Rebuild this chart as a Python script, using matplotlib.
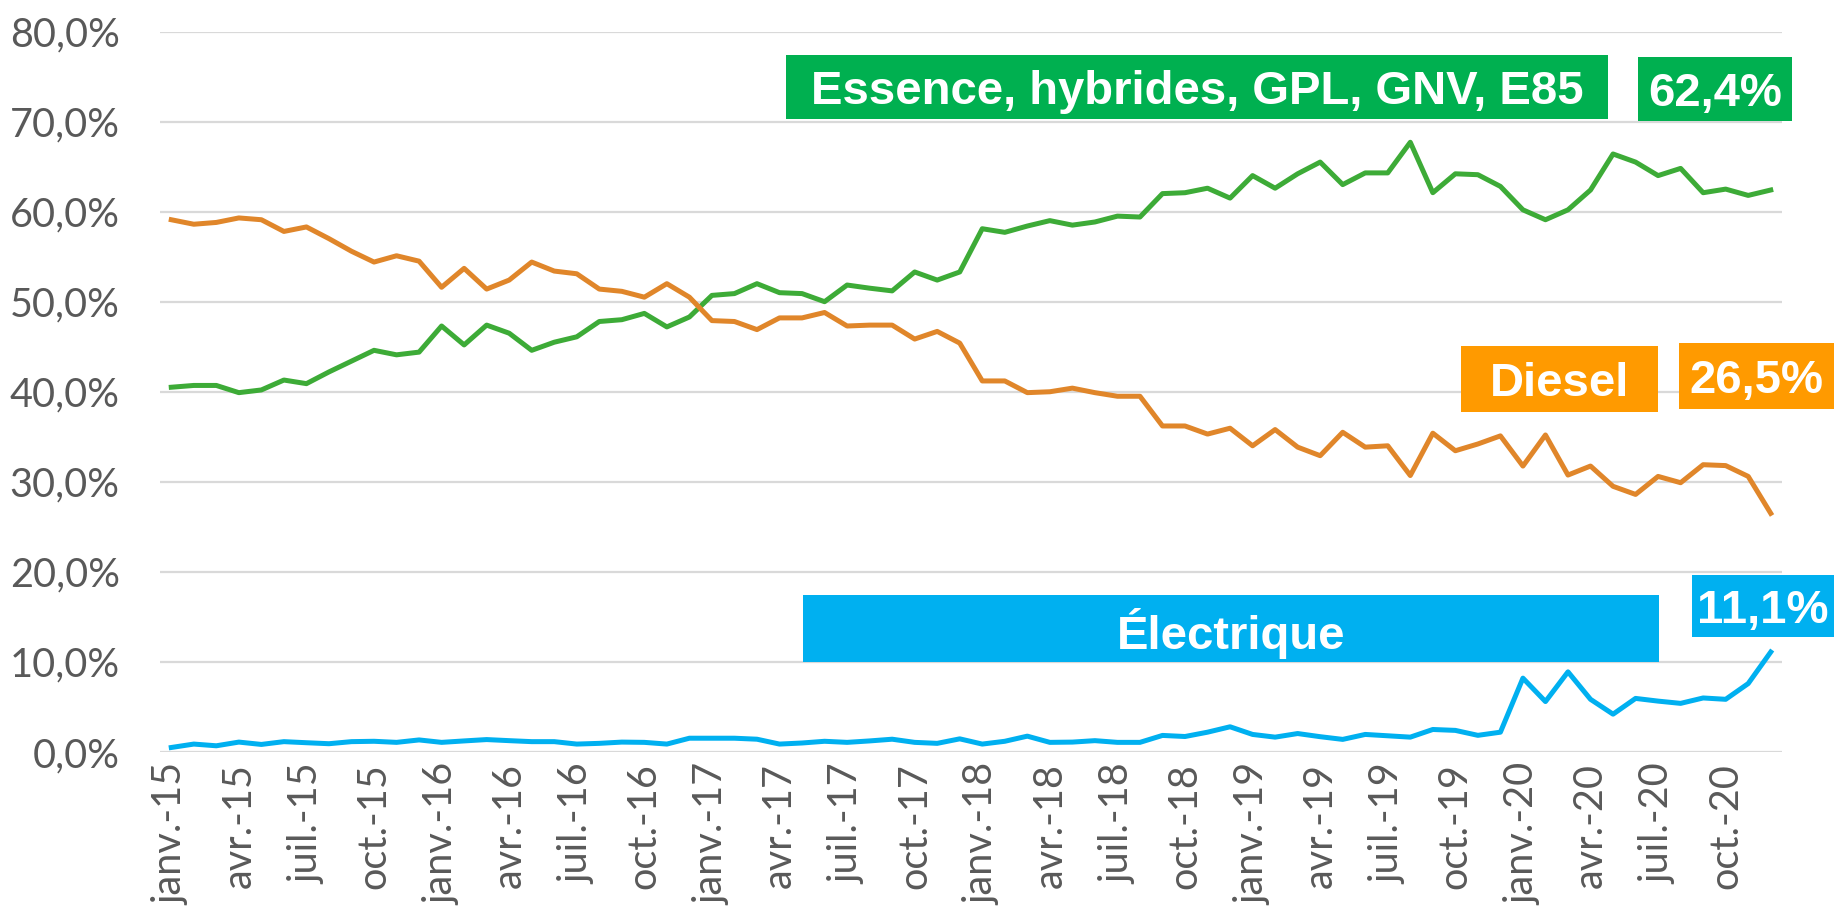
import matplotlib
matplotlib.use("Agg")
import matplotlib.pyplot as plt
from matplotlib.patches import Rectangle
import numpy as np

months_fr = ["janv.", "févr.", "mars", "avr.", "mai", "juin",
             "juil.", "août", "sept.", "oct.", "nov.", "déc."]
years = ["15", "16", "17", "18", "19", "20"]
categories = [f"{m}-{y}" for y in years for m in months_fr]

essence = [40.5, 40.7, 40.7, 39.9, 40.2, 41.3, 40.9, 42.2, 43.4, 44.6, 44.1, 44.4,
           47.3, 45.2, 47.4, 46.5, 44.6, 45.5, 46.1, 47.8, 48.0, 48.7, 47.2, 48.3,
           50.7, 50.9, 52.0, 51.0, 50.9, 50.0, 51.85, 51.5, 51.2, 53.3, 52.4, 53.3,
           58.1, 57.7, 58.4, 59.0, 58.5, 58.85, 59.5, 59.4, 62.0, 62.1, 62.6, 61.5,
           64.0, 62.6, 64.2, 65.5, 63.0, 64.3, 64.3, 67.7, 62.1, 64.2, 64.1, 62.8,
           60.2, 59.1, 60.2, 62.4, 66.4, 65.5, 64.0, 64.8, 62.1, 62.5, 61.8, 62.4]

diesel = [59.1, 58.6, 58.8, 59.3, 59.1, 57.8, 58.3, 57.0, 55.6, 54.4, 55.1, 54.5,
          51.6, 53.7, 51.4, 52.4, 54.4, 53.4, 53.1, 51.4, 51.15, 50.5, 52.0, 50.5,
          47.9, 47.8, 46.9, 48.2, 48.2, 48.8, 47.3, 47.4, 47.4, 45.85, 46.7, 45.4,
          41.2, 41.2, 39.9, 40.0, 40.4, 39.9, 39.5, 39.5, 36.2, 36.2, 35.3, 35.95,
          34.0, 35.8, 33.85, 32.9, 35.5, 33.85, 34.0, 30.7, 35.4, 33.45, 34.2, 35.1,
          31.75, 35.2, 30.75, 31.75, 29.5, 28.6, 30.6, 29.9, 31.9, 31.8, 30.6, 26.5]

electrique = [0.5, 0.88, 0.69, 1.1, 0.84, 1.15, 1.03, 0.92, 1.15, 1.19, 1.07, 1.34,
              1.07, 1.23, 1.38, 1.26, 1.15, 1.15, 0.88, 0.96, 1.1, 1.07, 0.88, 1.53,
              1.53, 1.53, 1.42, 0.88, 1.0, 1.19, 1.07, 1.23, 1.42, 1.07, 0.96, 1.46,
              0.88, 1.19, 1.76, 1.07, 1.1, 1.26, 1.07, 1.07, 1.84, 1.72, 2.2, 2.8,
              1.95, 1.65, 2.05, 1.7, 1.4, 1.95, 1.8, 1.65, 2.5, 2.4, 1.85, 2.2,
              8.2, 5.6, 8.9, 5.85, 4.2, 5.95, 5.65, 5.4, 6.0, 5.85, 7.6, 11.1]

y_ticks = [0, 10, 20, 30, 40, 50, 60, 70, 80]
series_names = ["Essence, hybrides, GPL, GNV, E85", "Diesel", "Électrique"]
end_labels = ["62,4%", "26,5%", "11,1%"]

c_green_line = "#3dab37"
c_orange_line = "#e0862a"
c_blue_line = "#00b0f0"
c_green_box = "#00b050"
c_orange_box = "#ff9a00"
c_blue_box = "#00b0f0"
c_tick = "#595959"

W, H = 1834, 918
fig = plt.figure(figsize=(W / 100, H / 100), dpi=100)
ax = fig.add_axes([160 / W, (H - 752) / H, 1622 / W, 720.5 / H])

x = np.arange(len(categories))
ax.plot(x, essence, color=c_green_line, lw=3.6, solid_joinstyle="round", zorder=3)
ax.plot(x, diesel, color=c_orange_line, lw=3.6, solid_joinstyle="round", zorder=3)
ax.plot(x, electrique, color=c_blue_line, lw=3.6, solid_joinstyle="round", zorder=3)

ax.set_xlim(-0.5, len(categories) - 0.5)
ax.set_ylim(0, 80)
ax.set_yticks(y_ticks)
ax.set_yticklabels([f"{v:.1f}%".replace(".", ",") for v in y_ticks])
ax.set_xticks(x[::3])
ax.set_xticklabels(categories[::3], rotation=90, ha="center", va="top")
ax.yaxis.grid(True, color="#d9d9d9", lw=1.6)
ax.set_axisbelow(True)
for s in ax.spines.values():
    s.set_visible(False)
ax.tick_params(axis="both", length=0, colors=c_tick, labelsize=28.5)
ax.tick_params(axis="y", pad=29)
ax.tick_params(axis="x", pad=8)
for lab in ax.get_xticklabels() + ax.get_yticklabels():
    lab.set_family("Lato")
    lab.set_color(c_tick)


def box(x0, y0, x1, y1, color, text):
    fig.add_artist(Rectangle((x0 / W, 1 - y1 / H), (x1 - x0) / W, (y1 - y0) / H,
                             transform=fig.transFigure, facecolor=color,
                             edgecolor="none", zorder=5))
    fig.text((x0 + x1) / 2 / W, 1 - (y0 + y1) / 2 / H, text, color="white",
             fontsize=34, fontweight="bold", family="Liberation Sans",
             ha="center", va="center_baseline", zorder=6)


box(786, 55, 1608, 119, c_green_box, series_names[0])
box(1638, 57, 1792, 121, c_green_box, end_labels[0])
box(1461, 346, 1658, 412, c_orange_box, series_names[1])
box(1679, 343, 1834, 409, c_orange_box, end_labels[1])
box(803, 595, 1659, 662, c_blue_box, series_names[2])
box(1692, 575, 1834, 637, c_blue_box, end_labels[2])

fig.savefig("out.png", dpi=100)
